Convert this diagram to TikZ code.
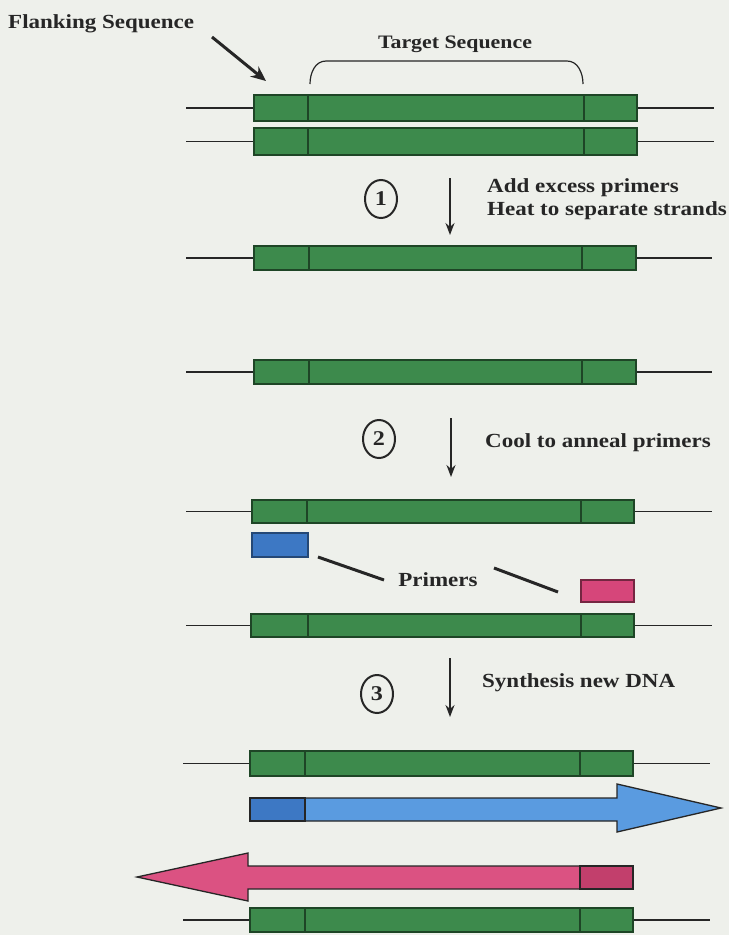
\documentclass[tikz,border=0pt]{standalone}
\usepackage{fontspec}
\setmainfont{Liberation Serif}[FakeStretch=1.15]
\usetikzlibrary{arrows.meta,shapes.geometric}
\definecolor{bg}{HTML}{EEF0EB}
\definecolor{dnagreen}{HTML}{3D8A4C}
\definecolor{dnaedge}{HTML}{1E4526}
\definecolor{primblue}{HTML}{3D78C4}
\definecolor{arrblue}{HTML}{5A9BE0}
\definecolor{primpink}{HTML}{D6467A}
\definecolor{arrpink}{HTML}{DB5282}
\definecolor{darkpink}{HTML}{C23F6C}
\definecolor{ink}{HTML}{262626}
\newcommand\dnastrand[8]{%
  \draw[strandline] (#7,{(#1+#2)/2}) -- (#3,{(#1+#2)/2});
  \draw[strandline] (#4,{(#1+#2)/2}) -- (#8,{(#1+#2)/2});
  \draw[strandbox] (#3,#1) rectangle (#4,#2);
  \draw[divider] (#5,#1) -- (#5,#2);
  \draw[divider] (#6,#1) -- (#6,#2);
}
\begin{document}
\begin{tikzpicture}[x=1pt,y=-1pt,
  strandline/.style={draw=ink,line width=1.5pt},
  strandbox/.style={draw=dnaedge,fill=dnagreen,line width=1.3pt},
  divider/.style={draw=dnaedge,line width=1.1pt},
  lbl/.style={font=\fontsize{20}{24}\selectfont\bfseries,text=ink,inner sep=0pt},
  stepnum/.style={draw=ink,line width=2pt,ellipse,minimum width=32pt,minimum height=38pt,inner sep=0pt,font=\fontsize{21}{24}\selectfont\bfseries,text=ink},
  steparrow/.style={draw=ink,line width=1.6pt,-{Stealth[length=12pt,width=9pt]}},
  pointer/.style={draw=ink,line width=3pt},
]
\fill[bg] (0,0) rectangle (729,935);
\useasboundingbox (0,0) rectangle (729,935);

% labels at top
\node[lbl,anchor=west] (flank) at (8,24) {Flanking Sequence};
\coordinate (flankstart) at (212,37);
\coordinate (flankend) at (266,81);
\draw[pointer,-{Stealth[length=15pt,width=13pt]}] (flankstart) -- (flankend);
\node[lbl,font=\fontsize{19}{22}\selectfont\bfseries] (target) at (455,44) {Target Sequence};
\draw[ink,line width=1.2pt] (310,84) to[out=90,in=180] (326,61) -- (567,61) to[out=0,in=90] (583,84);

% strands
\dnastrand{95}{121}{254}{637}{308}{584}{186}{714}
\dnastrand{128}{155}{254}{637}{308}{584}{186}{714}
\dnastrand{246}{270}{254}{636}{309}{582}{186}{712}
\dnastrand{360}{384}{254}{636}{309}{582}{186}{712}
\dnastrand{500}{523}{252}{634}{307}{581}{186}{712}
\dnastrand{614}{637}{251}{634}{308}{581}{186}{712}
\dnastrand{751}{776}{250}{633}{305}{580}{183}{710}
\dnastrand{908}{932}{250}{633}{305}{580}{183}{710}

% step 1
\node[stepnum] (c1) at (381,199) {1};
\coordinate (a1s) at (450,178); \coordinate (a1e) at (450,235);
\draw[steparrow] (a1s) -- (a1e);
\node[lbl,anchor=west] (t1a) at (487,188) {Add excess primers};
\node[lbl,anchor=west] (t1b) at (487,211) {Heat to separate strands};

% step 2
\node[stepnum] (c2) at (379,439) {2};
\coordinate (a2s) at (451,418); \coordinate (a2e) at (451,477);
\draw[steparrow] (a2s) -- (a2e);
\node[lbl,anchor=west] (t2) at (485,443) {Cool to anneal primers};

% primers
\node[draw=primblue!60!black,fill=primblue,line width=1.2pt,minimum width=56pt,minimum height=24pt,inner sep=0pt] (pb) at (280,545) {};
\node[draw=darkpink!60!black,fill=primpink,line width=1.2pt,minimum width=53pt,minimum height=22pt,inner sep=0pt] (pp) at (607.5,591) {};
\node[lbl] (prim) at (438,580) {Primers};
\coordinate (pl1) at (318,557); \coordinate (pl2) at (384,580);
\coordinate (pr1) at (494,568); \coordinate (pr2) at (558,592);
\draw[pointer] (pl1) -- (pl2);
\draw[pointer] (pr1) -- (pr2);

% step 3
\node[stepnum] (c3) at (377,694) {3};
\coordinate (a3s) at (450,658); \coordinate (a3e) at (450,717);
\draw[steparrow] (a3s) -- (a3e);
\node[lbl,anchor=west] (t3) at (482,683) {Synthesis new DNA};

% new DNA arrows
\draw[draw=ink,fill=arrblue,line width=1.3pt,line join=miter]
  (250,798) -- (617,798) -- (617,784) -- (721,808) -- (617,832) -- (617,821) -- (250,821) -- cycle;
\draw[draw=ink,fill=primblue,line width=1.1pt] (250,798) rectangle (305,821);
\draw[draw=ink,fill=arrpink,line width=1.3pt,line join=miter]
  (633,866) -- (248,866) -- (248,853) -- (137,877) -- (248,901) -- (248,889) -- (633,889) -- cycle;
\draw[draw=ink,fill=darkpink,line width=1.1pt] (580,866) rectangle (633,889);
\end{tikzpicture}
\end{document}
